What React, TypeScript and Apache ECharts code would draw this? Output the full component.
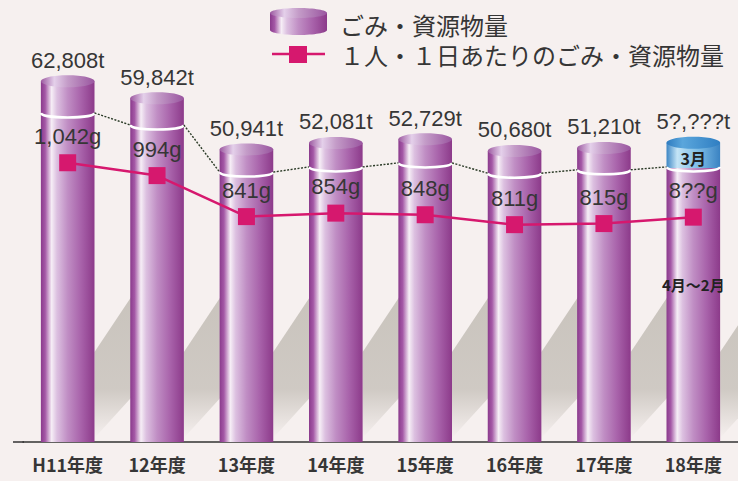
import React, { useEffect, useRef } from 'react';
import * as echarts from 'echarts';

const categories = ['H11年度', '12年度', '13年度', '14年度', '15年度', '16年度', '17年度', '18年度'];
const totalTons = [62808, 59842, 50941, 52081, 52729, 50680, 51210, 52100];
const tonLabels = ['62,808t', '59,842t', '50,941t', '52,081t', '52,729t', '50,680t', '51,210t', '5?,???t'];
const aprToFebTons = [57300, 55200, 47000, 47900, 48600, 46800, 47400, 47900];
const perCapitaGrams = [1042, 994, 841, 854, 848, 811, 815, 839];
const gramLabels = ['1,042g', '994g', '841g', '854g', '848g', '811g', '815g', '8??g'];
const legendNames = ['ごみ・資源物量', '１人・１日あたりのごみ・資源物量'];
const partialYearIndex = 7;
const partialLabels = ['3月', '4月〜2月'];

const PINK = '#d6186e';
const TEXT = '#363636';
const NUM_FONT = '"Liberation Sans", Arial, sans-serif';
const JP_FONT = '"Noto Sans CJK JP", sans-serif';

const purpleBody = () =>
  new echarts.graphic.LinearGradient(0, 0, 1, 0, [
    { offset: 0, color: '#8a3a8c' },
    { offset: 0.08, color: '#a458a6' },
    { offset: 0.2, color: '#f6eef6' },
    { offset: 0.3, color: '#dcc0e0' },
    { offset: 0.5, color: '#c08ec4' },
    { offset: 0.75, color: '#a862aa' },
    { offset: 1, color: '#8c3a8a' },
  ]);
const purpleTop = () =>
  new echarts.graphic.LinearGradient(0, 0, 1, 0, [
    { offset: 0, color: '#9c58a0' },
    { offset: 0.25, color: '#e4d0ea' },
    { offset: 0.5, color: '#c49cc8' },
    { offset: 1, color: '#9a56a0' },
  ]);
const blueBody = () =>
  new echarts.graphic.LinearGradient(0, 0, 1, 0, [
    { offset: 0, color: '#3d86c4' },
    { offset: 0.2, color: '#c4e4f6' },
    { offset: 0.35, color: '#a6d4ef' },
    { offset: 0.65, color: '#74b6e2' },
    { offset: 1, color: '#3a82c2' },
  ]);
const blueTop = () =>
  new echarts.graphic.LinearGradient(0, 0, 1, 0, [
    { offset: 0, color: '#2f7cc0' },
    { offset: 0.3, color: '#5aa6dc' },
    { offset: 1, color: '#2f7ec2' },
  ]);
const shadowFill = () =>
  new echarts.graphic.LinearGradient(0, 0, 0, 1, [
    { offset: 0, color: 'rgba(168,163,152,0.6)' },
    { offset: 0.72, color: 'rgba(168,163,152,0.5)' },
    { offset: 1, color: 'rgba(168,163,152,0)' },
  ]);

const renderItem = (params: any, api: any) => {
  const i = params.dataIndex;
  const [cx, base] = api.coord([i, 0]);
  const topY = api.coord([i, totalTons[i]])[1];
  const bandY = api.coord([i, aprToFebTons[i]])[1];
  const w = api.size([1, 0])[0] * 0.6;
  const L = cx - w / 2;
  const R = cx + w / 2;
  const ry = 6;
  const partial = i === partialYearIndex;
  const children: any[] = [];

  children.push({
    type: 'polygon',
    z2: 0,
    shape: { points: [[R, base - 4], [R, base - 90], [R + 60, base - 180], [R + 60, base - 70]] },
    style: { fill: shadowFill() },
  });

  if (partial) {
    children.push({ type: 'rect', z2: 2, shape: { x: L, y: bandY, width: w, height: base - bandY }, style: { fill: purpleBody() } });
    children.push({ type: 'rect', z2: 2, shape: { x: L, y: topY, width: w, height: bandY - topY + 1 }, style: { fill: blueBody() } });
    children.push({ type: 'ellipse', z2: 3, shape: { cx, cy: topY, rx: w / 2, ry }, style: { fill: blueTop() } });
  } else {
    children.push({ type: 'rect', z2: 2, shape: { x: L, y: topY, width: w, height: base - topY }, style: { fill: purpleBody() } });
    children.push({ type: 'ellipse', z2: 3, shape: { cx, cy: topY, rx: w / 2, ry }, style: { fill: purpleTop() } });
  }

  children.push({
    type: 'bezierCurve',
    z2: 4,
    shape: { x1: L, y1: bandY, x2: R, y2: bandY, cpx1: L + 1, cpy1: bandY + 6, cpx2: R - 1, cpy2: bandY + 6 },
    style: { stroke: '#ffffff', lineWidth: 2.5, fill: null },
  });

  if (i > 0) {
    const [pcx] = api.coord([i - 1, 0]);
    const pBandY = api.coord([i - 1, aprToFebTons[i - 1]])[1];
    children.push({
      type: 'line',
      z2: 4,
      shape: { x1: pcx + w / 2, y1: pBandY, x2: L, y2: bandY },
      style: { stroke: '#2a3a26', lineWidth: 1.4, lineDash: [2, 1.5] },
    });
  }

  children.push({
    type: 'text',
    z2: 10,
    style: {
      x: cx, y: topY - 21, text: tonLabels[i], align: 'center', verticalAlign: 'middle',
      fontSize: 22, fontFamily: NUM_FONT, fill: TEXT,
    },
  });

  if (partial) {
    children.push({
      type: 'text', z2: 10,
      style: { x: cx, y: (topY + bandY) / 2 + 3, text: partialLabels[0], align: 'center', verticalAlign: 'middle', fontSize: 16, fontWeight: 'bold', fontFamily: JP_FONT, fill: '#222' },
    });
    children.push({
      type: 'text', z2: 10,
      style: { x: cx, y: bandY + 118, text: partialLabels[1], align: 'center', verticalAlign: 'middle', fontSize: 15, fontWeight: 'bold', fontFamily: JP_FONT, fill: '#222' },
    });
  }

  return { type: 'group', children };
};

export default function App() {
  const ref = useRef<HTMLDivElement>(null);
  useEffect(() => {
    document.body.style.margin = '0';
    if (!ref.current) return;
    const chart = echarts.init(ref.current, null, { renderer: 'svg' });
    chart.setOption({
      animation: false,
      backgroundColor: '#f6f0ef',
      grid: { left: 23, top: 40, width: 720, height: 402 },
      xAxis: {
        type: 'category',
        data: categories,
        boundaryGap: true,
        axisLine: { lineStyle: { color: '#333', width: 1.5 } },
        axisTick: { inside: true, length: 7, interval: 0, lineStyle: { color: '#333', width: 1 } },
        axisLabel: { interval: 0, fontSize: 18, fontWeight: 'bold', color: TEXT, margin: 13, fontFamily: JP_FONT },
      },
      yAxis: [
        { type: 'value', min: 0, max: 70000, show: false, splitLine: { show: false } },
        { type: 'value', min: 0, max: 1500, show: false, splitLine: { show: false } },
      ],
      graphic: [
        { type: 'line', shape: { x1: 13, y1: 442, x2: 24, y2: 442 }, style: { stroke: '#333', lineWidth: 1.5 } },
        { type: 'rect', shape: { x: 270, y: 13, width: 57, height: 17 }, style: { fill: purpleBody() } },
        { type: 'ellipse', shape: { cx: 298.5, cy: 30, rx: 28.5, ry: 5 }, style: { fill: purpleBody() } },
        { type: 'ellipse', shape: { cx: 298.5, cy: 13, rx: 28.5, ry: 5 }, style: { fill: purpleTop() } },
        { type: 'text', style: { x: 340, y: 24, text: legendNames[0], verticalAlign: 'middle', fontSize: 24, lineHeight: 26, fontFamily: JP_FONT, fill: TEXT } },
        { type: 'line', shape: { x1: 272, y1: 54, x2: 325, y2: 54 }, style: { stroke: PINK, lineWidth: 2.5 } },
        { type: 'rect', shape: { x: 289, y: 46, width: 18, height: 17 }, style: { fill: PINK } },
        { type: 'text', style: { x: 340, y: 54, text: legendNames[1], verticalAlign: 'middle', fontSize: 24, lineHeight: 26, fontFamily: JP_FONT, fill: TEXT } },
      ],
      series: [
        {
          type: 'custom',
          name: legendNames[0],
          renderItem,
          data: totalTons.map((v, i) => [i, v]),
          encode: { x: 0, y: 1 },
          z: 2,
        },
        {
          type: 'line',
          name: legendNames[1],
          yAxisIndex: 1,
          data: perCapitaGrams,
          symbol: 'rect',
          symbolSize: 17,
          itemStyle: { color: PINK },
          lineStyle: { color: PINK, width: 2.5 },
          label: {
            show: true,
            position: 'top',
            distance: 7,
            formatter: (p: any) => gramLabels[p.dataIndex],
            fontSize: 22,
            fontFamily: NUM_FONT,
            color: TEXT,
          },
          z: 5,
        },
      ],
    });
    return () => chart.dispose();
  }, []);
  return <div ref={ref} style={{ width: 738, height: 481 }} />;
}
